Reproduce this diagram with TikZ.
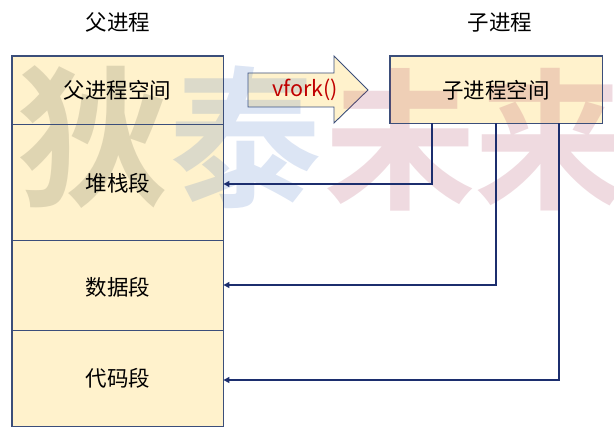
\documentclass[tikz,border=0pt]{standalone}
\usepackage{fontspec}
\setmainfont{Noto Sans CJK SC}
\newfontfamily\wmfont{Noto Sans CJK SC Bold}
\usetikzlibrary{arrows.meta}
\definecolor{boxfill}{HTML}{FFF2CC}
\definecolor{boxline}{HTML}{3B4E7A}
\definecolor{connline}{HTML}{1C2E6E}
\definecolor{callred}{HTML}{C00000}
\definecolor{wmgray}{RGB}{90,88,70}
\definecolor{wmblue}{RGB}{70,115,195}
\definecolor{wmpink}{RGB}{170,60,90}
\tikzset{
  lbl/.style={font=\fontsize{21.5}{25}\selectfont, inner sep=0pt},
  seg/.style={draw=boxline, fill=boxfill, line width=0.9pt, minimum width=211pt,
    inner sep=0pt},
  conn/.style={draw=connline, line width=1.9pt,
    -{Triangle[length=6pt,width=6pt]}},
  wm/.style={font=\wmfont\fontsize{152}{160}\selectfont, inner sep=0pt, opacity=0.19},
}
\begin{document}
\begin{tikzpicture}[x=1pt,y=-1pt]
\useasboundingbox (0,0) rectangle (614,436);

% parent address space, split into its segments
\node[seg, minimum height=68pt]  (pspace) at (117.5,90)  {};
\node[seg, minimum height=116pt] (stack)  at (117.5,182) {};
\node[seg, minimum height=90pt]  (data)   at (117.5,285) {};
\node[seg, minimum height=96pt]  (code)   at (117.5,378) {};

% child address space
\node[seg, minimum width=212pt, minimum height=67pt] (cspace) at (496,89.5) {};

% vfork() block arrow
\path[draw=boxline, fill=boxfill, line width=0.9pt]
  (248,73) -- (334,73) -- (334,56) -- (368,90) -- (334,123) -- (334,107) -- (248,107) -- cycle;

% background lettering
\node[wm, text=wmgray] (w1) at (93,137)  {狄};
\node[wm, text=wmblue] (w2) at (245,137) {泰};
\node[wm, text=wmpink] (w3) at (400,140) {未};
\node[wm, text=wmpink] (w4) at (550,140) {来};

% outlines and labels above the lettering
\draw[boxline, line width=0.9pt] (pspace.north west) rectangle (code.south east);
\draw[boxline, line width=0.9pt] (pspace.south west) -- (pspace.south east);
\draw[boxline, line width=0.9pt] (stack.south west) -- (stack.south east);
\draw[boxline, line width=0.9pt] (data.south west) -- (data.south east);
\draw[boxline, line width=0.9pt] (cspace.north west) rectangle (cspace.south east);

\node[lbl] (ptitle) at (118,22) {父进程};
\node[lbl] (ctitle) at (500,22) {子进程};
\node[lbl] (ptext) at (pspace.center) {父进程空间};
\node[lbl] (stext) at (118,183) {堆栈段};
\node[lbl] (dtext) at (118,287) {数据段};
\node[lbl] (ctext) at (118,378) {代码段};
\node[lbl] (cstext) at (496,90) {子进程空间};
\node[lbl, text=callred] (call) at (305,90) {vfork()};

% shared segments: child space points back to the parent's
\coordinate (k1) at (432,184);
\coordinate (k2) at (496,285);
\coordinate (k3) at (559,380);
\draw[conn] (cspace.south -| k1) |- (stack.east |- k1);
\draw[conn] (cspace.south -| k2) |- (data.east |- k2);
\draw[conn] (cspace.south -| k3) |- (code.east |- k3);
\end{tikzpicture}
\end{document}
